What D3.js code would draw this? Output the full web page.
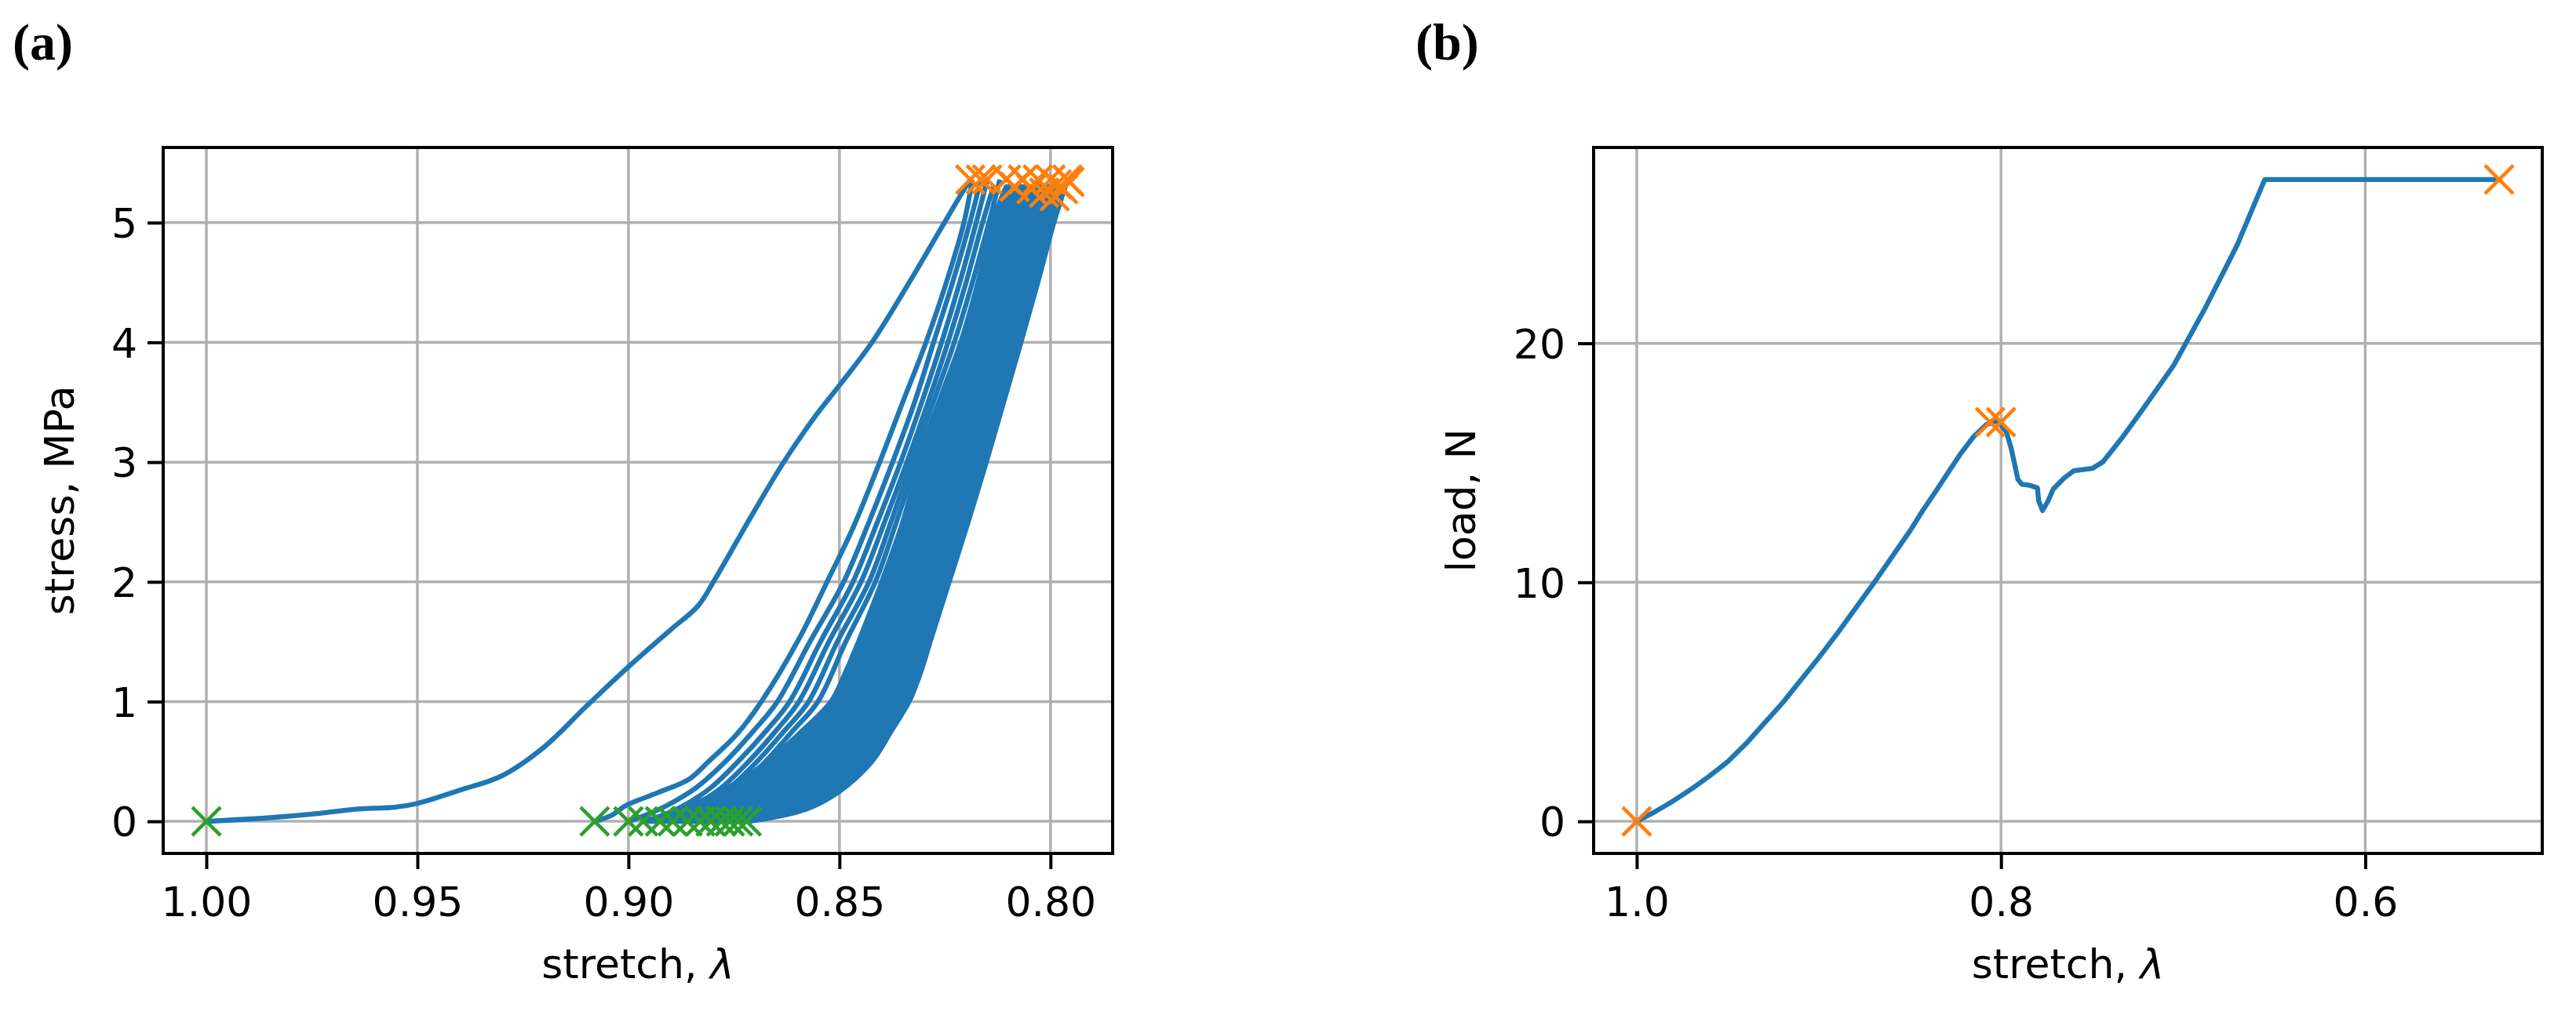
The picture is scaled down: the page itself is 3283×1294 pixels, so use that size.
<!DOCTYPE html>
<html>
<head>
<meta charset="utf-8">
<script src="https://cdn.jsdelivr.net/npm/d3@7"></script>
<style>
  body { margin: 0; background: #fff; }
  svg { display: block; }
</style>
</head>
<body>
<div id="chart"></div>
<script>
// ---- data ----
const stretchTicksA = [1.00, 0.95, 0.90, 0.85, 0.80]
const stressTicks = [0, 1, 2, 3, 4, 5]
const stretchTicksB = [1.0, 0.8, 0.6]
const loadTicks = [0, 10, 20]

// (a) the first (softest) element, [stretch, stress]
const firstCurve = [[1.000,0],[0.985,0.03],[0.975,0.06],[0.965,0.10],[0.955,0.12],[0.950,0.15],
  [0.940,0.26],[0.930,0.38],[0.920,0.62],[0.910,0.96],[0.900,1.29],[0.890,1.60],[0.8835,1.80],
  [0.8797,2.01],[0.8707,2.56],[0.8632,3.00],[0.8558,3.38],[0.8498,3.65],[0.8423,4.00],
  [0.8333,4.51],[0.8258,4.96],[0.8206,5.27],[0.8190,5.36]]

// (a) the curves that can still be told apart on the left of the bundle
const bundleCurves = [
  [[0.908,0],[0.904,0.05],[0.9007,0.13],[0.893,0.24],[0.8857,0.35],[0.881,0.5],[0.8745,0.72],[0.8685,1.0],
   [0.8595,1.53],[0.8528,2.01],[0.8468,2.45],[0.8408,2.97],[0.8348,3.52],[0.8295,4.0],[0.8236,4.62],[0.8205,5.0],[0.8185,5.36]],
  [[0.900,0],[0.896,0.05],[0.891,0.13],[0.884,0.28],[0.877,0.5],[0.8705,0.75],[0.8647,1.0],[0.857,1.5],
   [0.849,2.0],[0.843,2.5],[0.8374,3.0],[0.8322,3.5],[0.8277,4.0],[0.8232,4.5],[0.8191,5.0],[0.8165,5.36]],
  [[0.8965,0],[0.892,0.05],[0.887,0.13],[0.8805,0.28],[0.874,0.5],[0.8675,0.75],[0.8618,1.0],[0.8545,1.5],
   [0.8468,2.0],[0.841,2.5],[0.8355,3.0],[0.8305,3.5],[0.8258,4.0],[0.8215,4.5],[0.8176,5.0],[0.8150,5.36]],
  [[0.8925,0],[0.889,0.05],[0.8845,0.13],[0.878,0.28],[0.8715,0.5],[0.8652,0.75],[0.8596,1.0],[0.8525,1.5],
   [0.8449,2.0],[0.8393,2.5],[0.834,3.0],[0.829,3.5],[0.8243,4.0],[0.82,4.5],[0.8161,5.0],[0.8135,5.30]],
  [[0.8895,0],[0.886,0.05],[0.882,0.13],[0.876,0.28],[0.8695,0.5],[0.8632,0.75],[0.8573,1.0],[0.8505,1.5],
   [0.843,2.0],[0.8378,2.5],[0.8329,3.0],[0.8278,3.5],[0.8228,4.0],[0.8185,4.5],[0.8146,5.0],[0.8120,5.36]],
  [[0.886,0],[0.8835,0.05],[0.8795,0.13],[0.8738,0.28],[0.8675,0.5],[0.8612,0.75],[0.8551,1.0],[0.8485,1.5],
   [0.8415,2.0],[0.8365,2.5],[0.8318,3.0],[0.8265,3.5],[0.8213,4.0],[0.8172,4.5],[0.8138,5.0],[0.8105,5.30]]
]

// (a) the dense part of the bundle, left and right edge stretch at each stress level
const coreStress = [0, 0.1, 0.25, 0.5, 0.75, 1.0, 1.25, 1.5, 2.0, 2.5, 3.0, 3.5, 4.0, 4.5, 5.0, 5.3]
const coreLeft  = [0.8960, 0.8880, 0.8780, 0.8670, 0.8590, 0.8520, 0.8485, 0.8455, 0.8400, 0.8350, 0.8310, 0.8255, 0.8205, 0.8165, 0.8130, 0.8105]
const coreRight = [0.8715, 0.8580, 0.8500, 0.8423, 0.8378, 0.8335, 0.8307, 0.8285, 0.8240, 0.8195, 0.8152, 0.8111, 0.8070, 0.8030, 0.7992, 0.7965]

// (a) markers: start of each element (green) and failure (orange)
const startMarksA = [[1.0,0],[0.908,0],[0.900,0],[0.8965,0],[0.8925,0],[0.8895,0],[0.886,0],
  [0.883,0],[0.8805,0],[0.878,0],[0.876,0],[0.874,0],[0.872,0]]
const endMarksA = [[0.8190,5.36],[0.8165,5.36],[0.8150,5.36],[0.8105,5.36],[0.8085,5.30],[0.8065,5.36],
  [0.8045,5.28],[0.8030,5.36],[0.8015,5.25],[0.8000,5.36],[0.7990,5.22],[0.7985,5.32],[0.7970,5.28],
  [0.7960,5.36],[0.7955,5.34]]

// (b) load vs stretch, [stretch, load]
const loadCurve = [[1.0,0],[0.99,0.4],[0.98,0.85],[0.97,1.35],[0.96,1.9],[0.95,2.5],[0.94,3.25],[0.93,4.1],
  [0.92,4.95],[0.91,5.9],[0.90,6.85],[0.89,7.85],[0.88,8.9],[0.87,9.95],[0.86,11.05],[0.85,12.15],
  [0.843,13.0],[0.835,13.9],[0.829,14.6],[0.822,15.4],[0.815,16.1],[0.808,16.6],[0.802,16.75],
  [0.7971,16.3],[0.7944,15.6],[0.7907,14.3],[0.7885,14.1],[0.7842,14.06],[0.7800,13.95],[0.7793,13.4],
  [0.7772,13.0],[0.7742,13.4],[0.7713,13.9],[0.7655,14.35],[0.7599,14.67],[0.7497,14.77],[0.744,15.04],
  [0.734,16.0],[0.7225,17.2],[0.705,19.1],[0.6877,21.5],[0.6704,24.1],[0.6552,26.85],[0.6443,26.85],[0.5265,26.85]]
const loadMarks = [[1.0,0],[0.806,16.7],[0.800,16.7],[0.5265,26.85]]

// ---- style ----
const blue = "#1f77b4", orange = "#ff7f0e", green = "#2ca02c"
const font = "'DejaVu Sans', sans-serif"
const lw = 6.3

const svg = d3.select("#chart").append("svg")
  .attr("width", 3283)
  .attr("height", 1294)

// matplotlib-like 5% margins
function padded(lo, hi) {
  let p = (hi - lo) * 0.05
  return [lo - p, hi + p]
}

function xMark(g, data, x, y, color) {
  g.append("g")
    .selectAll("path")
    .data(data)
    .join("path")
      .attr("transform", d => `translate(${x(d[0])},${y(d[1])})`)
      .attr("d", "M-18,-18L18,18M-18,18L18,-18")
      .attr("stroke", color)
      .attr("stroke-width", 4.5)
      .attr("fill", "none")
}

function drawFrame(box, x, y, xTicks, yTicks, xFmt, ylabel, ylabelX, yTickX, panel, panelX) {
  const g = svg.append("g")

  // grid
  g.append("g").selectAll("line").data(xTicks).join("line")
    .attr("x1", d => x(d)).attr("x2", d => x(d))
    .attr("y1", box.top).attr("y2", box.bottom)
    .attr("stroke", "#b0b0b0").attr("stroke-width", 3.5)
  g.append("g").selectAll("line").data(yTicks).join("line")
    .attr("y1", d => y(d)).attr("y2", d => y(d))
    .attr("x1", box.left).attr("x2", box.right)
    .attr("stroke", "#b0b0b0").attr("stroke-width", 3.5)

  // axes
  const ax = svg.append("g")
    .attr("class", "axes")
    .attr("transform", `translate(0,${box.bottom})`)
    .call(d3.axisBottom(x).tickValues(xTicks).tickFormat(d3.format(xFmt)).tickSize(20))
  ax.selectAll("text").attr("dy", null).attr("y", 80)

  const ay = svg.append("g")
    .attr("class", "axes")
    .attr("transform", `translate(${box.left},0)`)
    .call(d3.axisLeft(y).tickValues(yTicks).tickFormat(d3.format("d")).tickSize(20))
  ay.selectAll("text").attr("x", yTickX).attr("dy", "0.36em")

  svg.selectAll(".axes .domain").remove()
  svg.selectAll(".axes line").attr("stroke", "#000").attr("stroke-width", 4)
  svg.selectAll(".axes text")
    .attr("fill", "#000")
    .style("font-family", font)
    .style("font-size", "52px")

  // labels
  const xl = svg.append("text")
    .attr("x", (box.left + box.right) / 2)
    .attr("y", 1247)
    .attr("text-anchor", "middle")
    .style("font-family", font)
    .style("font-size", "52px")
  xl.append("tspan").text("stretch, ")
  xl.append("tspan").style("font-style", "oblique").text("λ")

  svg.append("text")
    .attr("transform", `translate(${ylabelX},${(box.top + box.bottom) / 2}) rotate(-90)`)
    .attr("text-anchor", "middle")
    .style("font-family", font)
    .style("font-size", "52px")
    .text(ylabel)

  svg.append("text")
    .attr("x", panelX)
    .attr("y", 76)
    .style("font-family", "'Liberation Serif', serif")
    .style("font-weight", "bold")
    .style("font-size", "66px")
    .text(panel)
}

function drawBorder(box) {
  svg.append("rect")
    .attr("x", box.left).attr("y", box.top)
    .attr("width", box.right - box.left).attr("height", box.bottom - box.top)
    .attr("fill", "none").attr("stroke", "#000").attr("stroke-width", 4)
}

// ---- (a) stress vs stretch ----
const boxA = {left: 208, right: 1418, top: 188, bottom: 1088}
let allA = firstCurve.concat(endMarksA, startMarksA, ...bundleCurves)
let xdA = padded(d3.min(allA, d => d[0]), d3.max(allA, d => d[0]))
let ydA = padded(0, d3.max(allA, d => d[1]))
const xA = d3.scaleLinear().domain([xdA[1], xdA[0]]).range([boxA.left, boxA.right])
const yA = d3.scaleLinear().domain(ydA).range([boxA.bottom, boxA.top])

drawFrame(boxA, xA, yA, stretchTicksA, stressTicks, ".2f", "stress, MPa", 94, -33, "(a)", 16)

const gA = svg.append("g")
const lineA = d3.line().x(d => xA(d[0])).y(d => yA(d[1])).curve(d3.curveCatmullRom.alpha(0.5))

// dense core of the bundle
gA.append("path")
  .datum(coreStress.map((s, i) => ({s: s, l: coreLeft[i], r: coreRight[i]})))
  .attr("d", d3.area()
      .y(d => yA(d.s))
      .x0(d => xA(d.l))
      .x1(d => xA(d.r))
      .curve(d3.curveCatmullRom.alpha(0.5)))
  .attr("fill", blue)
  .attr("stroke", blue)
  .attr("stroke-width", lw)
  .attr("stroke-linejoin", "round")

gA.append("g")
  .selectAll("path")
  .data([firstCurve].concat(bundleCurves))
  .join("path")
    .attr("d", lineA)
    .attr("fill", "none")
    .attr("stroke", blue)
    .attr("stroke-width", lw)
    .attr("stroke-linejoin", "round")

xMark(gA, startMarksA, xA, yA, green)
xMark(gA, endMarksA, xA, yA, orange)
drawBorder(boxA)

// ---- (b) load vs stretch ----
const boxB = {left: 2031, right: 3240, top: 188, bottom: 1088}
let xdB = padded(d3.min(loadCurve, d => d[0]), d3.max(loadCurve, d => d[0]))
let ydB = padded(0, d3.max(loadCurve, d => d[1]))
const xB = d3.scaleLinear().domain([xdB[1], xdB[0]]).range([boxB.left, boxB.right])
const yB = d3.scaleLinear().domain(ydB).range([boxB.bottom, boxB.top])

drawFrame(boxB, xB, yB, stretchTicksB, loadTicks, ".1f", "load, N", 1880, -36, "(b)", 1804)

const gB = svg.append("g")
gB.append("path")
  .datum(loadCurve)
  .attr("d", d3.line().x(d => xB(d[0])).y(d => yB(d[1])))
  .attr("fill", "none")
  .attr("stroke", blue)
  .attr("stroke-width", lw)
  .attr("stroke-linejoin", "round")

xMark(gB, loadMarks, xB, yB, orange)
drawBorder(boxB)
</script>
</body>
</html>
